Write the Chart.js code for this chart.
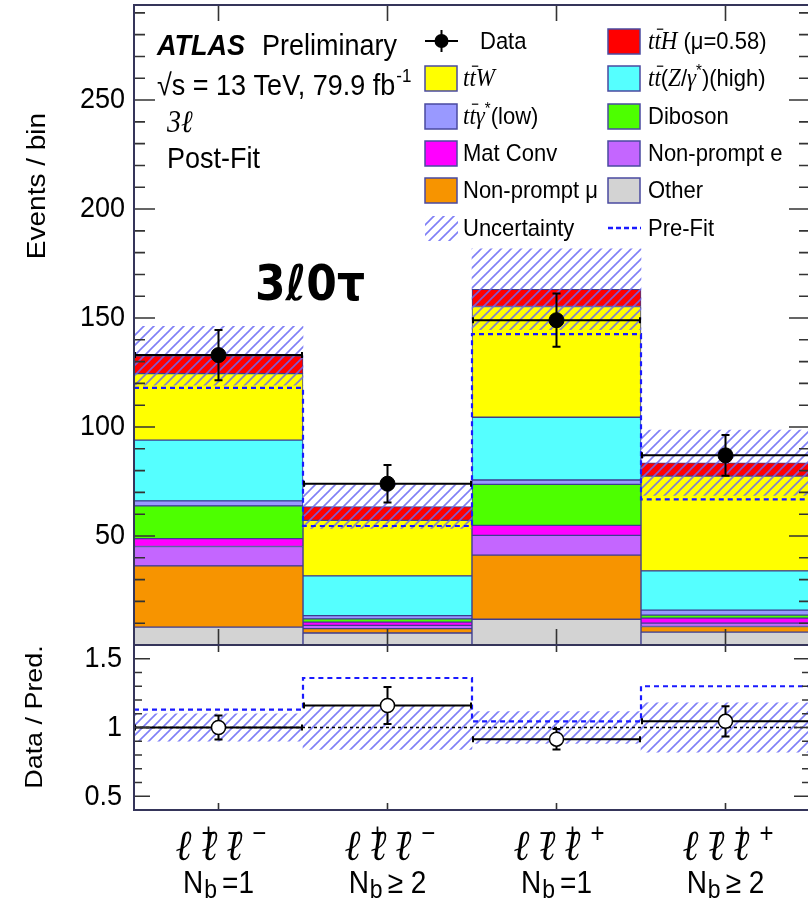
<!DOCTYPE html>
<html>
<head>
<meta charset="utf-8">
<script src="https://cdn.jsdelivr.net/npm/chart.js@4.4.0/dist/chart.umd.min.js"></script>
<style>
html, body { margin: 0; padding: 0; background: #fff; overflow: hidden; width: 808px; height: 902px; }
#main { position: absolute; left: 0; top: 0; }
#ratio { position: absolute; left: 0; top: 640px; }
</style>
</head>
<body>
<canvas id="main" width="812" height="650"></canvas>
<canvas id="ratio" width="812" height="262"></canvas>
<script>
// 3l0tau region, split by lepton charge and b-jet multiplicity
const bins = ['l+l-l- Nb=1', 'l+l-l- Nb>=2', 'l-l+l+ Nb=1', 'l-l+l+ Nb>=2'];
const lepSigns = [['+', '−', '−'], ['+', '−', '−'], ['−', '+', '+'], ['−', '+', '+']];
const nbText = ['=1', '≥ 2', '=1', '≥ 2'];

// post-fit yields, bottom of the stack first
const other = [8.2, 5.5, 11.8, 5.9];
const nonPromptMu = [28.1, 2.0, 29.4, 2.6];
const nonPromptE = [8.9, 1.5, 9.1, 1.5];
const matConv = [3.6, 1.5, 4.6, 2.3];
const diboson = [15.0, 1.5, 18.8, 1.4];
const ttGammaLow = [2.3, 1.5, 2.0, 2.3];
const ttZHigh = [27.9, 18.2, 28.8, 18.0];
const ttW = [30.5, 25.5, 50.8, 43.5];
const ttH = [8.2, 6.3, 7.9, 6.1];

const dataYield = [133, 74, 149, 87];
const dataErr = [11.5, 8.6, 12.2, 9.3];
const uncErr = [13.5, 10, 18.5, 15];
const preFit = [118, 54.6, 142.6, 66.8];

// lower panel
const ratioData = [1.00, 1.16, 0.915, 1.045];
const ratioErr = [0.087, 0.135, 0.075, 0.11];
const ratioUnc = [0.10, 0.16, 0.115, 0.18];
const ratioPreFit = [1.13, 1.36, 1.045, 1.30];

const mainTicks = [50, 100, 150, 200, 250];
const ratioTicks = [0.5, 1, 1.5];

const colors = {
  other: '#d3d3d3', npMu: '#f79400', npE: '#c466ff', matConv: '#ff00ff', diboson: '#4dff00',
  ttGamma: '#9999ff', ttZ: '#55ffff', ttW: '#ffff00', ttH: '#ff0000'
};

const stack = [
  ['Other', other, colors.other],
  ['Non-prompt mu', nonPromptMu, colors.npMu],
  ['Non-prompt e', nonPromptE, colors.npE],
  ['Mat Conv', matConv, colors.matConv],
  ['Diboson', diboson, colors.diboson],
  ['ttgamma low', ttGammaLow, colors.ttGamma],
  ['ttZ high', ttZHigh, colors.ttZ],
  ['ttW', ttW, colors.ttW],
  ['ttH', ttH, colors.ttH]
];

const total = bins.map((_, i) => stack.reduce((s, d) => s + d[1][i], 0));

const SY = 1.12; // the picture is slightly stretched vertically

function hatch() {
  const c = document.createElement('canvas');
  c.width = 10; c.height = 10;
  const g = c.getContext('2d');
  g.strokeStyle = 'rgba(105,105,245,0.85)';
  g.lineWidth = 1.6;
  g.beginPath();
  g.moveTo(-1, 11); g.lineTo(11, -1);
  g.moveTo(-6, 6); g.lineTo(6, -6);
  g.moveTo(4, 16); g.lineTo(16, 4);
  g.stroke();
  return g.createPattern(c, 'repeat');
}
const hatchFill = hatch();

function txt(ctx, s, x, y, font, align, base, rot) {
  ctx.save();
  ctx.translate(x, y);
  ctx.scale(1, SY);
  if (rot) ctx.rotate(rot);
  ctx.font = font;
  ctx.textAlign = align || 'left';
  ctx.textBaseline = base || 'alphabetic';
  ctx.fillStyle = '#000';
  ctx.fillText(s, 0, 0);
  ctx.restore();
}

// parts: [text, style]  n = sans, i = italic serif, ib = italic with bar, sup = superscript
function rich(ctx, parts, x, y, size) {
  let cx = x;
  for (const [s, st] of parts) {
    let font = `${size}px "Liberation Sans"`;
    if (st === 'i' || st === 'ib') font = `italic ${size + 1}px "Liberation Serif"`;
    if (st === 'sup') font = `${Math.round(size * 0.7)}px "Liberation Sans"`;
    ctx.font = font;
    const w = ctx.measureText(s).width;
    const dy = st === 'sup' ? -size * 0.3 : 0;
    txt(ctx, s, cx, y + dy * SY, font, 'left', 'middle');
    if (st === 'ib') {
      ctx.save();
      ctx.strokeStyle = '#000'; ctx.lineWidth = 1.2;
      ctx.beginPath();
      ctx.moveTo(cx + 2.5, y - size * 0.52 * SY);
      ctx.lineTo(cx + w + 2.5, y - size * 0.52 * SY);
      ctx.stroke();
      ctx.restore();
    }
    cx += w;
  }
}

function binEdges(x, i) {
  const c = x.getPixelForValue(i);
  const half = Math.abs(x.getPixelForValue(1) - x.getPixelForValue(0)) / 2;
  return [c - half, c, c + half];
}

function drawSteps(ctx, x, y, vals) {
  ctx.save();
  ctx.strokeStyle = '#1a1aff';
  ctx.lineWidth = 2.2;
  ctx.setLineDash([5, 4]);
  ctx.beginPath();
  vals.forEach((v, i) => {
    const [l, , r] = binEdges(x, i);
    const py = y.getPixelForValue(v);
    if (i === 0) ctx.moveTo(l, py); else ctx.lineTo(l, py);
    ctx.lineTo(r, py);
  });
  ctx.stroke();
  ctx.restore();
}

function drawDataBars(ctx, x, y, vals, errs) {
  ctx.save();
  ctx.strokeStyle = '#000';
  ctx.lineWidth = 2;
  vals.forEach((v, i) => {
    const [l, c, r] = binEdges(x, i);
    const py = y.getPixelForValue(v);
    const top = y.getPixelForValue(v + errs[i]);
    const bot = y.getPixelForValue(v - errs[i]);
    ctx.beginPath();
    ctx.moveTo(l, py); ctx.lineTo(r, py);
    ctx.moveTo(l + 1, py - 3); ctx.lineTo(l + 1, py + 3);
    ctx.moveTo(r - 1, py - 3); ctx.lineTo(r - 1, py + 3);
    ctx.moveTo(c, top); ctx.lineTo(c, bot);
    ctx.moveTo(c - 4, top); ctx.lineTo(c + 4, top);
    ctx.moveTo(c - 4, bot); ctx.lineTo(c + 4, bot);
    ctx.stroke();
  });
  ctx.restore();
}

function drawFrame(chart, o) {
  const {ctx, chartArea: a, scales: {x, y}} = chart;
  ctx.save();
  ctx.strokeStyle = '#333';
  ctx.lineWidth = 1.6;
  ctx.beginPath();
  const n = Math.round((o.max - o.min) / o.step);
  for (let k = 0; k <= n; k++) {
    const v = o.min + k * o.step;
    const py = y.getPixelForValue(v);
    if (py < a.top + 1 || py > a.bottom - 1) continue;
    const major = Math.abs(v / o.major - Math.round(v / o.major)) < 1e-6;
    const len = major ? o.yMajor : o.yMinor;
    ctx.moveTo(a.left, py); ctx.lineTo(a.left + len, py);
    ctx.moveTo(a.right, py); ctx.lineTo(a.right - len, py);
  }
  for (let i = 0; i < bins.length; i++) {
    const px = x.getPixelForValue(i);
    ctx.moveTo(px, a.top); ctx.lineTo(px, a.top + o.xLen);
    ctx.moveTo(px, a.bottom); ctx.lineTo(px, a.bottom - o.xLen);
  }
  ctx.stroke();
  ctx.strokeStyle = '#35355a';
  ctx.lineWidth = 2;
  ctx.strokeRect(a.left, a.top, a.right - a.left, a.bottom - a.top);
  ctx.restore();
}

const legendEntries = [
  {parts: [['Data', 'n']], kind: 'data'},
  {parts: [['t', 'i'], ['t', 'ib'], ['H', 'i'], [' (μ=0.58)', 'n']], color: colors.ttH},
  {parts: [['t', 'i'], ['t', 'ib'], ['W', 'i']], color: colors.ttW},
  {parts: [['t', 'i'], ['t', 'ib'], ['(', 'n'], ['Z', 'i'], ['/', 'n'], ['γ', 'i'], ['*', 'sup'], [')(high)', 'n']], color: colors.ttZ},
  {parts: [['t', 'i'], ['t', 'ib'], ['γ', 'i'], ['*', 'sup'], ['(low)', 'n']], color: colors.ttGamma},
  {parts: [['Diboson', 'n']], color: colors.diboson},
  {parts: [['Mat Conv', 'n']], color: colors.matConv},
  {parts: [['Non-prompt e', 'n']], color: colors.npE},
  {parts: [['Non-prompt μ', 'n']], color: colors.npMu},
  {parts: [['Other', 'n']], color: colors.other},
  {parts: [['Uncertainty', 'n']], kind: 'unc'},
  {parts: [['Pre-Fit', 'n']], kind: 'prefit'}
];

function drawLegend(ctx) {
  const rows = [41, 78, 116, 153, 190, 228];
  const boxX = [425, 608];
  const textX = [463, 648];
  legendEntries.forEach((e, k) => {
    const col = k % 2, ry = rows[Math.floor(k / 2)];
    const bx = boxX[col];
    let tx = textX[col];
    ctx.save();
    if (e.kind === 'data') {
      ctx.strokeStyle = '#000'; ctx.lineWidth = 2;
      ctx.beginPath();
      ctx.moveTo(bx, ry); ctx.lineTo(bx + 33, ry);
      ctx.moveTo(bx + 16.5, ry - 11); ctx.lineTo(bx + 16.5, ry + 11);
      ctx.stroke();
      ctx.fillStyle = '#000';
      ctx.beginPath(); ctx.arc(bx + 16.5, ry, 7, 0, Math.PI * 2); ctx.fill();
      tx = 480;
    } else if (e.kind === 'unc') {
      ctx.fillStyle = hatchFill;
      ctx.fillRect(bx, ry - 12, 33, 25);
    } else if (e.kind === 'prefit') {
      ctx.strokeStyle = '#1a1aff'; ctx.lineWidth = 2.5; ctx.setLineDash([5, 3]);
      ctx.beginPath(); ctx.moveTo(bx, ry); ctx.lineTo(bx + 33, ry); ctx.stroke();
    } else {
      ctx.fillStyle = e.color;
      ctx.fillRect(bx, ry - 12, 32, 25);
      ctx.strokeStyle = '#4a4aa0'; ctx.lineWidth = 1.5;
      ctx.strokeRect(bx, ry - 12, 32, 25);
    }
    ctx.restore();
    rich(ctx, e.parts, tx, ry + 1, 22);
  });
}

const mainPlugin = {
  id: 'mainExtras',
  beforeDatasetDraw(chart, args) {
    if (args.meta.type !== 'line') return;
    const {ctx, scales: {x, y}} = chart;
    drawSteps(ctx, x, y, preFit);
    drawDataBars(ctx, x, y, dataYield, dataErr);
  },
  afterDraw(chart) {
    const {ctx, scales: {y}} = chart;
    drawFrame(chart, {min: 0, max: 290, step: 10, major: 50, yMajor: 21, yMinor: 11, xLen: 16});
    mainTicks.forEach(v => txt(ctx, String(v), 125, y.getPixelForValue(v), '27px "Liberation Sans"', 'right', 'middle'));
    txt(ctx, 'Events / bin', 38, 186, '25px "Liberation Sans"', 'center', 'middle', -Math.PI / 2);

    txt(ctx, 'ATLAS', 157, 55, 'bold italic 27px "Liberation Sans"');
    txt(ctx, 'Preliminary', 262, 55, '27px "Liberation Sans"');
    const f = '27px "Liberation Sans"';
    ctx.font = f;
    const w = ctx.measureText('√s = 13 TeV, 79.9 fb').width;
    txt(ctx, '√s = 13 TeV, 79.9 fb', 157, 95, f);
    txt(ctx, '-1', 157 + w + 1, 82, '17px "Liberation Sans"');
    txt(ctx, '3ℓ', 167, 132, 'italic 28px "Liberation Serif"');
    txt(ctx, 'Post-Fit', 167, 168, f);
    txt(ctx, '3ℓ0τ', 255, 300, 'bold 44px "DejaVu Sans"');

    drawLegend(ctx);
  }
};

new Chart(document.getElementById('main'), {
  type: 'bar',
  data: {
    labels: bins,
    datasets: [
      {
        type: 'line',
        label: 'Data',
        data: dataYield,
        stack: 'data',
        showLine: false,
        pointRadius: 7.5,
        pointBackgroundColor: '#000',
        pointBorderColor: '#000',
        order: 0
      },
      {
        label: 'Uncertainty',
        data: total.map((t, i) => [t - uncErr[i], t + uncErr[i]]),
        stack: 'unc',
        grouped: false,
        backgroundColor: hatchFill,
        borderWidth: 0,
        categoryPercentage: 1,
        barPercentage: 1,
        order: 1
      },
      ...stack.map(([name, vals, col]) => ({
        label: name,
        data: vals,
        stack: 'mc',
        backgroundColor: col,
        borderColor: '#3d3d8f',
        borderWidth: 1,
        borderSkipped: false,
        categoryPercentage: 1,
        barPercentage: 1,
        order: 2
      }))
    ]
  },
  options: {
    responsive: false,
    animation: false,
    layout: {autoPadding: false, padding: {top: 5, right: 2, bottom: 5, left: 0}},
    plugins: {legend: {display: false}, tooltip: {enabled: false}},
    scales: {
      x: {display: false, stacked: true, offset: true},
      y: {
        stacked: true, min: 0, max: 293.6,
        ticks: {display: false}, grid: {display: false}, border: {display: false},
        afterFit(s) { s.width = 134; }
      }
    }
  },
  plugins: [mainPlugin]
});

const RATIO_TOP = 640;

const ratioPlugin = {
  id: 'ratioExtras',
  beforeDatasetDraw(chart, args) {
    if (args.meta.type !== 'line') return;
    const {ctx, chartArea: a, scales: {x, y}} = chart;
    ctx.save();
    ctx.strokeStyle = '#000'; ctx.lineWidth = 1.5; ctx.setLineDash([3, 3]);
    ctx.beginPath();
    ctx.moveTo(a.left, y.getPixelForValue(1)); ctx.lineTo(a.right, y.getPixelForValue(1));
    ctx.stroke();
    ctx.restore();
    drawSteps(ctx, x, y, ratioPreFit);
    drawDataBars(ctx, x, y, ratioData, ratioErr);
  },
  afterDraw(chart) {
    const {ctx, scales: {x, y}} = chart;
    drawFrame(chart, {min: 0.4, max: 1.6, step: 0.1, major: 0.5, yMajor: 16, yMinor: 8, xLen: 7});
    ratioTicks.forEach(v => txt(ctx, String(v), 122, y.getPixelForValue(v), '27px "Liberation Sans"', 'right', 'middle'));
    txt(ctx, 'Data / Pred.', 35, 717 - RATIO_TOP, '24px "Liberation Sans"', 'center', 'middle', -Math.PI / 2);

    bins.forEach((b, i) => {
      const cx = x.getPixelForValue(i);
      // lepton charges
      [-35, -9, 16].forEach((dx, j) => {
        txt(ctx, 'ℓ', cx + dx, 860 - RATIO_TOP, 'italic 38px "Liberation Serif"', 'center');
        txt(ctx, lepSigns[i][j], cx + dx + 25, 835 - RATIO_TOP, '24px "Liberation Sans"', 'center', 'middle');
      });
      // N_b line
      const big = '28px "Liberation Sans"', small = '23px "Liberation Sans"';
      ctx.font = big; const wN = ctx.measureText('N').width; const wT = ctx.measureText(nbText[i]).width;
      ctx.font = small; const wB = ctx.measureText('b').width;
      const gap = 6;
      let sx = cx - (wN + wB + gap + wT) / 2;
      const base = 893 - RATIO_TOP;
      txt(ctx, 'N', sx, base, big);
      txt(ctx, 'b', sx + wN + 1, base + 5, small);
      txt(ctx, nbText[i], sx + wN + wB + gap, base, big);
    });
  }
};

new Chart(document.getElementById('ratio'), {
  type: 'bar',
  data: {
    labels: bins,
    datasets: [
      {
        type: 'line',
        label: 'Data / Pred.',
        data: ratioData,
        showLine: false,
        pointRadius: 7,
        pointBorderWidth: 1.5,
        pointBackgroundColor: '#fff',
        pointBorderColor: '#000',
        order: 0
      },
      {
        label: 'Uncertainty',
        data: ratioUnc.map(u => [1 - u, 1 + u]),
        backgroundColor: hatchFill,
        borderWidth: 0,
        categoryPercentage: 1,
        barPercentage: 1,
        order: 1
      }
    ]
  },
  options: {
    responsive: false,
    animation: false,
    layout: {autoPadding: false, padding: {top: 5, right: 2, bottom: 92, left: 0}},
    plugins: {legend: {display: false}, tooltip: {enabled: false}},
    scales: {
      x: {display: false, offset: true},
      y: {
        min: 0.4, max: 1.6,
        ticks: {display: false}, grid: {display: false}, border: {display: false},
        afterFit(s) { s.width = 134; }
      }
    }
  },
  plugins: [ratioPlugin]
});
</script>
</body>
</html>
